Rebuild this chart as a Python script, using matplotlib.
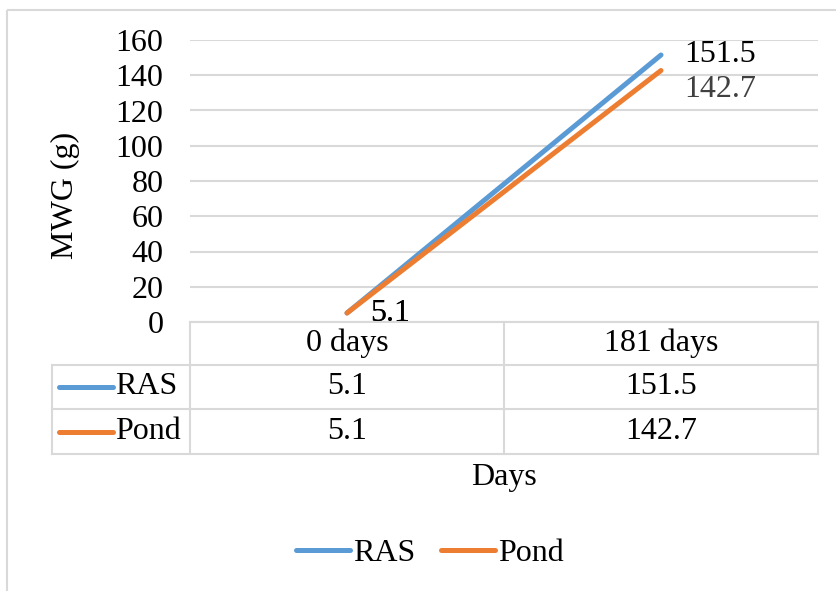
import matplotlib
matplotlib.use("Agg")
import matplotlib.pyplot as plt
from matplotlib.lines import Line2D
from matplotlib.patches import Rectangle

plt.rcParams['font.family'] = ['Liberation Serif', 'DejaVu Serif']
plt.rcParams['font.size'] = 23

# growth data
days = ["0 days", "181 days"]
series_names = ["RAS", "Pond"]
ras = [5.1, 151.5]
pond = [5.1, 142.7]
yticks = [0, 20, 40, 60, 80, 100, 120, 140, 160]

colors = ["#5B9BD5", "#ED7D31"]
label_colors = ["black", "#404040"]
grid_col = "#D9D9D9"

fig = plt.figure(figsize=(8.36, 5.91), dpi=100)

# overlay in pixel coordinates for the frame and data table
bg = fig.add_axes([0, 0, 1, 1], zorder=0)
bg.set_xlim(0, 836)
bg.set_ylim(591, 0)
bg.axis("off")
bg.add_patch(Rectangle((7, 10), 840, 600, fill=False, ec=grid_col, lw=1.5))

ax = fig.add_axes([190 / 836, 1 - 322 / 591, 628 / 836, 282 / 591], zorder=1)
ax.patch.set_alpha(0)
x = list(range(len(days)))
all_vals = [ras, pond]
lines = []
for name, vals, c in zip(series_names, all_vals, colors):
    ln, = ax.plot(x, vals, color=c, lw=3.6, solid_capstyle="round", label=name)
    lines.append(ln)

# data labels to the right of each point
offsets = [[(17, 0), (17, 0)], [(17, 0), (17, -13.5)]]
for vals, offs, lc in zip(all_vals, offsets, label_colors):
    for xi, v, off in zip(x, vals, offs):
        ax.annotate(f"{v}", (xi, v), xytext=off, textcoords="offset points",
                    ha="left", va="center", color=lc if xi > 0 else "black")

ax.set_xlim(-0.5, len(days) - 0.5)
ax.set_ylim(0, 160)
ax.set_yticks(yticks)
ax.set_xticks([])
ax.tick_params(axis="y", length=0, pad=19)
ax.yaxis.grid(True, color=grid_col, lw=1.5)
ax.set_axisbelow(True)
for s in ax.spines.values():
    s.set_visible(False)
ax.set_ylabel("MWG (g)")
ax.yaxis.set_label_coords(-0.175, 0.45)

# data table under the plot
col_edges = [190, 504, 818]
row_edges = [322, 365, 409, 454]
tbl = dict(color=grid_col, lw=1.5)
bg.plot([190, 818], [322, 322], **tbl)
for y in row_edges[1:]:
    bg.plot([52, 818], [y, y], **tbl)
bg.plot([52, 52], [365, 454], **tbl)
for cx in col_edges:
    bg.plot([cx, cx], [322, 454], **tbl)

for i, d in enumerate(days):
    cx = (col_edges[i] + col_edges[i + 1]) / 2
    bg.text(cx, (row_edges[0] + row_edges[1]) / 2, d, ha="center", va="center")
    for r, vals in enumerate(all_vals):
        cy = (row_edges[r + 1] + row_edges[r + 2]) / 2
        bg.text(cx, cy, f"{vals[i]}", ha="center", va="center")

for r, (name, c) in enumerate(zip(series_names, colors)):
    cy = (row_edges[r + 1] + row_edges[r + 2]) / 2
    bg.add_line(Line2D([59, 113], [cy, cy], color=c, lw=3.6, solid_capstyle="round"))
    bg.text(115, cy, name, ha="left", va="center")

bg.text(504, 478, "Days", ha="center", va="center")

fig.legend(handles=lines, loc="center", bbox_to_anchor=(430 / 836, 1 - 553 / 591),
           ncol=2, frameon=False, handlelength=1.7, handletextpad=0.1,
           columnspacing=0.8)

fig.savefig("out.png", dpi=100)
